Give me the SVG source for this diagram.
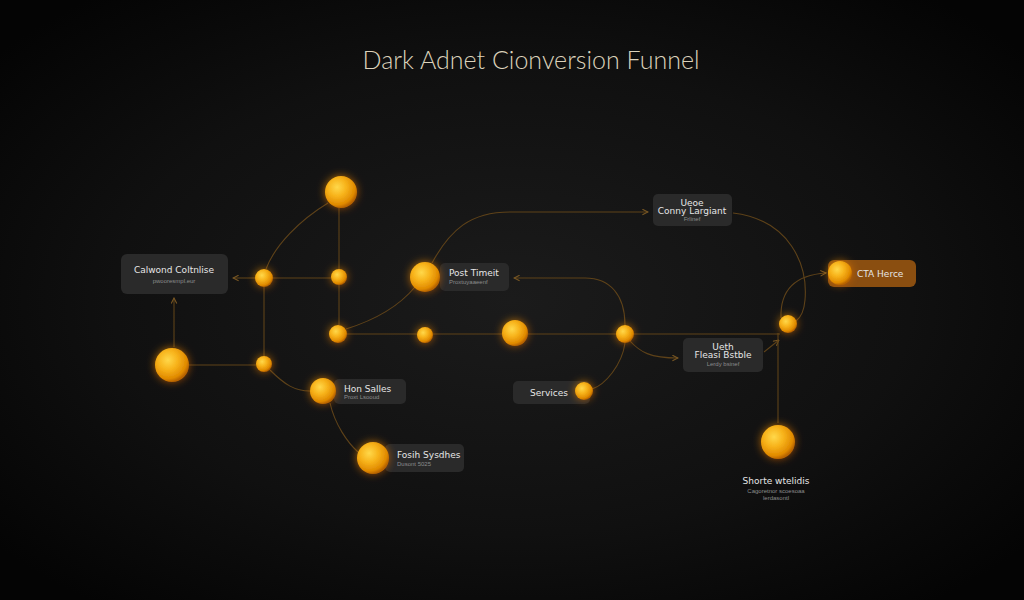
<svg xmlns="http://www.w3.org/2000/svg" width="1024" height="600" viewBox="0 0 1024 600">
<defs>
<radialGradient id="bg" cx="50%" cy="50%" r="65%">
<stop offset="0" stop-color="#1b1b1b"/>
<stop offset="0.6" stop-color="#101010"/>
<stop offset="1" stop-color="#040404"/>
</radialGradient>
<radialGradient id="orb" cx="38%" cy="35%" r="65%">
<stop offset="0" stop-color="#ffd84a"/>
<stop offset="0.45" stop-color="#f7b21a"/>
<stop offset="0.85" stop-color="#e08a00"/>
<stop offset="1" stop-color="#b86400"/>
</radialGradient>
<filter id="glow" x="-80%" y="-80%" width="260%" height="260%">
<feGaussianBlur in="SourceGraphic" stdDeviation="4" result="b"/>
<feColorMatrix in="b" type="matrix" values="1 0 0 0 0  0 0.6 0 0 0  0 0 0 0 0  0 0 0 0.7 0" result="c"/>
<feMerge><feMergeNode in="c"/><feMergeNode in="SourceGraphic"/></feMerge>
</filter>
<marker id="arr" viewBox="0 0 10 10" refX="9" refY="5" markerWidth="7" markerHeight="7" orient="auto-start-reverse" markerUnits="userSpaceOnUse">
<path d="M1 1 L9 5 L1 9" fill="none" stroke="#7a5824" stroke-width="1.5"/>
</marker>
</defs>
<style>
.ln{fill:none;stroke:#5e4219;stroke-width:1.1}
.box{fill:#2a2a2a}
.t{font-family:"DejaVu Sans","Liberation Sans",sans-serif;fill:#e6e6e6;font-size:9px}
.s{font-family:"Liberation Sans",sans-serif;fill:#8c8c8c;font-size:6px}
.orb{fill:url(#orb);filter:url(#glow)}
</style>
<rect width="1024" height="600" fill="url(#bg)"/>
<text x="531" y="69" text-anchor="middle" font-family="Lato, 'Open Sans', sans-serif" font-weight="300" font-size="25" fill="#dcd2bb">Dark Adnet Cionversion Funnel</text>

<g id="connectors">
<path class="ln" d="M339 208 L339 269"/>
<path class="ln" d="M328 203 C 300 220, 275 245, 266 269"/>
<path class="ln" d="M273 278 L331 278"/>
<path class="ln" d="M255 278 L233 278" marker-end="url(#arr)"/>
<path class="ln" d="M264 287 L264 356"/>
<path class="ln" d="M339 285 L339 325"/>
<path class="ln" d="M174 347 L174 298" marker-end="url(#arr)"/>
<path class="ln" d="M189 365 L256 365"/>
<path class="ln" d="M270 370 C 285 385, 295 391, 310 391"/>
<path class="ln" d="M330 403 C 335 425, 348 443, 358 452"/>
<path class="ln" d="M346 329 C 375 320, 400 305, 415 287"/>
<path class="ln" d="M432 263 C 450 230, 470 212, 510 212 L648 212" marker-end="url(#arr)"/>
<path class="ln" d="M347 334 L780 334"/>
<path class="ln" d="M625 325 C 625 295, 610 278, 585 278 L514 278" marker-end="url(#arr)"/>
<path class="ln" d="M630 341 C 640 352, 650 358, 678 358" marker-end="url(#arr)"/>
<path class="ln" d="M625 343 C 622 365, 605 385, 592 389"/>
<path class="ln" d="M733 213 C 790 220, 808 265, 805 300 C 804 312, 800 318, 796 321"/>
<path class="ln" d="M781 318 C 780 290, 795 275, 826 273" marker-end="url(#arr)"/>
<path class="ln" d="M764 352 L779 340" marker-end="url(#arr)"/>
<path class="ln" d="M778 333 L778 423"/>
</g>

<g id="n-calwond">
<rect class="box" x="121" y="254" width="107" height="40" rx="6"/>
<text class="t" x="174" y="273" text-anchor="middle">Calwond Coltnlise</text>
<text class="s" x="174" y="283" text-anchor="middle">pwooresmpl.eur</text>
</g>
<g id="n-post">
<rect class="box" x="440" y="263" width="69" height="28" rx="5"/>
<text class="t" x="449" y="276" font-size="8">Post Timeit</text>
<text class="s" x="449" y="284">Proxtuyaaeenf</text>
<circle class="orb" cx="425" cy="277" r="15"/>
</g>
<g id="n-conny">
<rect class="box" x="653" y="194" width="79" height="32" rx="5"/>
<text class="t" x="692" y="206" text-anchor="middle" font-size="7">Ueoe</text>
<text class="t" x="692" y="214" text-anchor="middle" font-size="8">Conny Largiant</text>
<text class="s" x="692" y="221" text-anchor="middle" font-size="5">Frlinef</text>
</g>
<g id="n-cta">
<rect x="828" y="260" width="88" height="27" rx="6" fill="#8a4e10"/>
<text class="t" x="857" y="277" font-size="9" fill="#f0e0cc">CTA Herce</text>
<circle class="orb" cx="840" cy="273" r="12"/>
</g>
<g id="n-ueth">
<rect class="box" x="683" y="338" width="80" height="34" rx="5"/>
<text class="t" x="723" y="350" text-anchor="middle" font-size="7">Ueth</text>
<text class="t" x="723" y="358" text-anchor="middle" font-size="8">Fleasi Bstble</text>
<text class="s" x="723" y="366" text-anchor="middle" font-size="5">Lerdy bsinef</text>
</g>
<g id="n-hon">
<rect class="box" x="334" y="379" width="72" height="25" rx="5"/>
<text class="t" x="344" y="392" font-size="8">Hon Salles</text>
<text class="s" x="344" y="399" font-size="5">Proxt Lsooud</text>
<circle class="orb" cx="323" cy="391" r="13"/>
</g>
<g id="n-fosih">
<rect class="box" x="385" y="444" width="79" height="28" rx="5"/>
<text class="t" x="397" y="458" font-size="8">Fosih Sysdhes</text>
<text class="s" x="397" y="466" font-size="5">Dusont 5025</text>
<circle class="orb" cx="373" cy="458" r="16"/>
</g>
<g id="n-services">
<rect class="box" x="513" y="381" width="77" height="23" rx="5"/>
<text class="t" x="549" y="396" text-anchor="middle" font-size="8">Services</text>
<circle class="orb" cx="584" cy="391" r="9"/>
</g>
<g id="n-shorte">
<circle class="orb" cx="778" cy="442" r="17"/>
<text class="t" x="776" y="484" text-anchor="middle" font-size="8">Shorte wtelidis</text>
<text class="s" x="776" y="493" text-anchor="middle">Cagoretnor scoesoaa</text>
<text class="s" x="776" y="500" text-anchor="middle">lerdasontl</text>
</g>
<g id="n-a"><circle class="orb" cx="341" cy="192" r="16"/></g>
<g id="n-b"><circle class="orb" cx="264" cy="278" r="9"/></g>
<g id="n-c"><circle class="orb" cx="339" cy="277" r="8"/></g>
<g id="n-d"><circle class="orb" cx="172" cy="365" r="17"/></g>
<g id="n-e"><circle class="orb" cx="264" cy="364" r="8"/></g>
<g id="n-f"><circle class="orb" cx="338" cy="334" r="9"/></g>
<g id="n-h"><circle class="orb" cx="425" cy="335" r="8"/></g>
<g id="n-i"><circle class="orb" cx="515" cy="333" r="13"/></g>
<g id="n-j"><circle class="orb" cx="625" cy="334" r="9"/></g>
<g id="n-n"><circle class="orb" cx="788" cy="324" r="9"/></g>
</svg>
